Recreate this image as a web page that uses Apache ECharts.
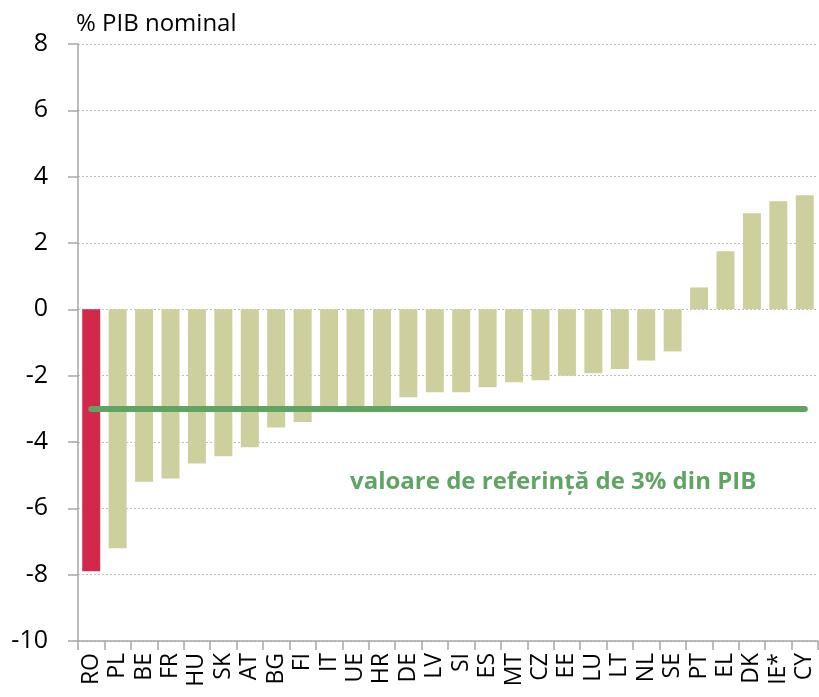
<!DOCTYPE html>
<html>
<head>
    <meta charset="utf-8" />
    <script src="https://cdn.jsdelivr.net/npm/echarts@6/dist/echarts.min.js"></script>
    <style>
        body { margin: 0; background: #fff; }
        #main { width: 819px; height: 697px; }
    </style>
</head>
<body>
    <div id="main"></div>
    <script>
        // tari
        var countries = ['RO', 'PL', 'BE', 'FR', 'HU', 'SK', 'AT', 'BG', 'FI', 'IT', 'UE', 'HR', 'DE', 'LV',
            'SI', 'ES', 'MT', 'CZ', 'EE', 'LU', 'LT', 'NL', 'SE', 'PT', 'EL', 'DK', 'IE*', 'CY'];
        // sold bugetar, % PIB
        var balance = [-7.9, -7.2, -5.2, -5.1, -4.65, -4.43, -4.16, -3.56, -3.4, -3.0, -3.0, -3.0, -2.65, -2.5,
            -2.5, -2.35, -2.2, -2.14, -2.0, -1.93, -1.8, -1.54, -1.27, 0.66, 1.75, 2.9, 3.26, 3.44];
        var refValue = -3;
        var refLabel = 'valoare de referință de 3% din PIB';
        var unitLabel = '% PIB nominal';

        var barColor = '#CDCF9C';
        var roColor = '#D2294B';
        var lineColor = '#5FA463';

        var data = balance.map(function (v, i) {
            return {
                value: v,
                itemStyle: { color: countries[i] === 'RO' ? roColor : barColor }
            };
        });

        var chart = echarts.init(document.getElementById('main'));
        chart.setOption({
            animation: false,
            textStyle: { fontFamily: 'Open Sans, Liberation Sans, sans-serif' },
            grid: { left: 78, right: 1, top: 44, bottom: 56 },
            xAxis: [
                {
                    type: 'category',
                    data: countries,
                    position: 'bottom',
                    axisLine: { show: false },
                    axisTick: { show: false },
                    axisLabel: {
                        rotate: 90,
                        interval: 0,
                        fontSize: 23,
                        color: '#000',
                        margin: 12
                    }
                },
                {
                    type: 'category',
                    data: countries,
                    position: 'bottom',
                    axisLine: { show: true, onZero: true, lineStyle: { color: '#A6A6A6', width: 1.5 } },
                    axisTick: { show: true, length: 9, lineStyle: { color: '#A6A6A6', width: 1.5 } },
                    axisLabel: { show: false }
                }
            ],
            yAxis: {
                type: 'value',
                min: -10,
                max: 8,
                interval: 2,
                name: unitLabel,
                nameLocation: 'end',
                nameGap: 8,
                nameTextStyle: { fontSize: 24, color: '#000', align: 'left', padding: [0, 0, 0, -2] },
                axisLine: { show: true, lineStyle: { color: '#A6A6A6', width: 1.5 } },
                axisTick: { show: true, length: 10, lineStyle: { color: '#A6A6A6', width: 1.5 } },
                axisLabel: { fontSize: 25, color: '#000', margin: 30 },
                splitLine: { show: true, lineStyle: { color: '#BFBFBF', type: [2, 2], width: 1 } }
            },
            series: [
                {
                    type: 'bar',
                    xAxisIndex: 0,
                    data: data,
                    barCategoryGap: '32%',
                    markLine: {
                        symbol: 'none',
                        silent: true,
                        label: { show: false },
                        lineStyle: { color: lineColor, width: 6, type: 'solid', cap: 'round' },
                        data: [[
                            { coord: ['RO', refValue] },
                            { coord: ['CY', refValue] }
                        ]]
                    }
                }
            ],
            graphic: [
                {
                    type: 'text',
                    left: 350,
                    top: 470,
                    style: {
                        text: refLabel,
                        fill: lineColor,
                        font: 'bold 24px "Open Sans", sans-serif'
                    }
                }
            ]
        });
    </script>
</body>
</html>
